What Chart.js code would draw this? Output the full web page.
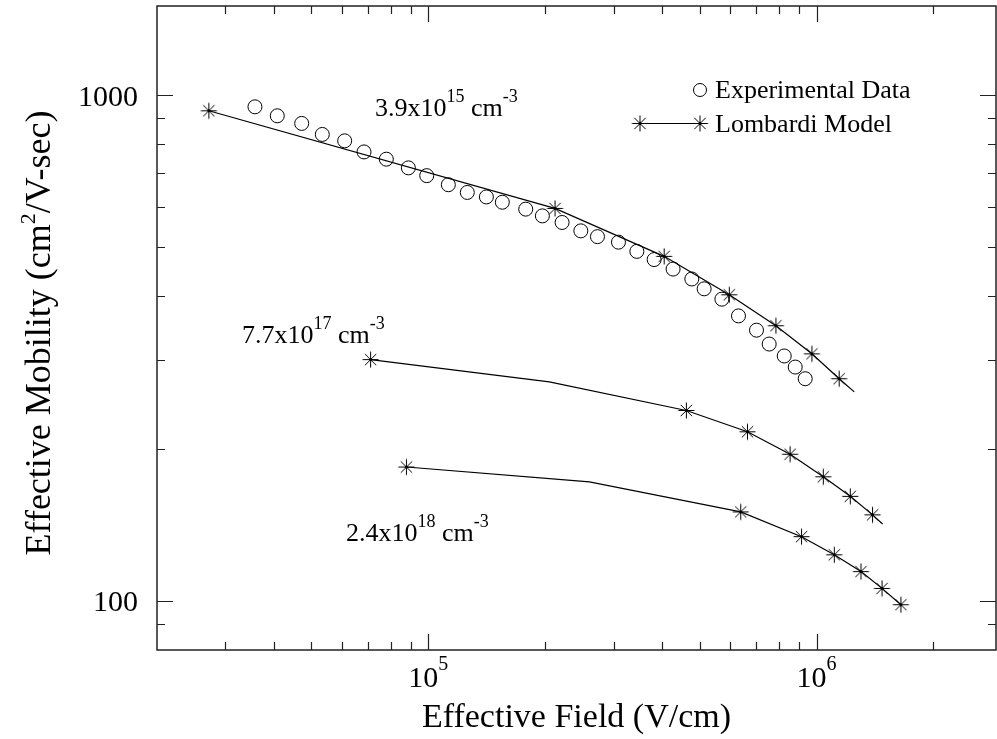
<!DOCTYPE html>
<html>
<head>
<meta charset="utf-8">
<script src="https://cdn.jsdelivr.net/npm/chart.js@4.4.0/dist/chart.umd.min.js"></script>
<style>
html, body { margin: 0; padding: 0; background: #fff; }
#wrap { width: 997px; height: 739px; }
</style>
</head>
<body>
<div id="wrap"><canvas id="myChart" width="997" height="739"></canvas></div>
<script>
// experimental data, 3.9x10^15 cm^-3
var expField = [35760, 40820, 47180, 53320, 60880, 68280, 77940, 88830, 99060, 112600,
    126000, 141100, 155100, 178200, 196700, 221100, 247100, 272700, 308900, 344500,
    381700, 427100, 477300, 513500, 570500, 629500, 700500, 755200, 825700, 881300, 935200];
var expMobility = [948, 910, 879, 836, 812, 772, 747, 718, 693, 665,
    642, 629, 614, 595, 577, 560, 539, 525, 512, 491,
    473, 453, 433, 414, 395, 366, 343, 322, 305, 290, 275];

// Lombardi model curves (line vertices) and the starred points on them
var lowField = [27200, 212000, 405000, 596000, 786000, 973000, 1144000, 1251000];
var lowMobility = [931, 597, 480, 403, 350, 308, 275, 259];
var lowStarField = [27200, 212000, 405000, 596000, 786000, 973000, 1144000];
var lowStarMobility = [931, 597, 480, 403, 350, 308, 275];

var midField = [71000, 205000, 462000, 664000, 855000, 1041000, 1222000, 1394000, 1480000];
var midMobility = [300, 271, 238, 216, 195, 176, 161, 148, 142];
var midStarField = [71000, 462000, 664000, 855000, 1041000, 1222000, 1394000];
var midStarMobility = [300, 238, 216, 195, 176, 161, 148];

var highField = [87800, 260000, 638000, 915000, 1111000, 1302000, 1475000, 1650000];
var highMobility = [184, 172, 150, 134, 123.4, 114.3, 105.9, 98.3];
var highStarField = [87800, 638000, 915000, 1111000, 1302000, 1475000, 1650000];
var highStarMobility = [184, 150, 134, 123.4, 114.3, 105.9, 98.3];

// axis ticks
var xMajorTicks = [1e5, 1e6];
var xMinorTicks = [3e4, 4e4, 5e4, 6e4, 7e4, 8e4, 9e4, 2e5, 3e5, 4e5, 5e5, 6e5, 7e5, 8e5, 9e5, 2e6];
var yMajorTicks = [100, 1000];
var yMinorTicks = [90, 200, 300, 400, 500, 600, 700, 800, 900];

var FONT = '"Liberation Serif", "DejaVu Serif", "Times New Roman", serif';

var pts = function (xs, ys) {
    return xs.map(function (v, i) { return { x: v, y: ys[i] }; });
};

// asterisk marker with a dot in the middle
var starImg = document.createElement('canvas');
starImg.width = 19;
starImg.height = 19;
(function () {
    var c = starImg.getContext('2d');
    var r = 8, cx = 9.5, cy = 9.5, d = r * Math.SQRT1_2;
    c.strokeStyle = '#000';
    c.lineWidth = 1;
    c.beginPath();
    c.moveTo(cx - r, cy); c.lineTo(cx + r, cy);
    c.moveTo(cx, cy - r); c.lineTo(cx, cy + r);
    c.moveTo(cx - d, cy - d); c.lineTo(cx + d, cy + d);
    c.moveTo(cx - d, cy + d); c.lineTo(cx + d, cy - d);
    c.stroke();
    c.fillStyle = '#000';
    c.beginPath();
    c.arc(cx, cy, 1.6, 0, Math.PI * 2);
    c.fill();
})();

var drawSup = function (ctx, parts, x, y, size, supSize, rise) {
    var cx = x;
    parts.forEach(function (p) {
        ctx.font = (p[1] ? supSize : size) + 'px ' + FONT;
        ctx.fillText(p[0], cx, p[1] ? y - rise : y);
        cx += ctx.measureText(p[0]).width;
    });
    return cx - x;
};
var supWidth = function (ctx, parts, size, supSize) {
    var w = 0;
    parts.forEach(function (p) {
        ctx.font = (p[1] ? supSize : size) + 'px ' + FONT;
        w += ctx.measureText(p[0]).width;
    });
    return w;
};

var decorPlugin = {
    id: 'decor',
    afterDraw: function (chart) {
        var ctx = chart.ctx;
        var a = chart.chartArea;
        var xs = chart.scales.x, ys = chart.scales.y;
        ctx.save();
        ctx.strokeStyle = '#222';
        ctx.fillStyle = '#000';
        ctx.lineWidth = 1.5;
        ctx.strokeRect(a.left, a.top, a.right - a.left, a.bottom - a.top);

        // ticks pointing inward on all four sides
        ctx.lineWidth = 1.2;
        ctx.beginPath();
        var xt = function (v, len) {
            var p = Math.round(xs.getPixelForValue(v)) + 0.5;
            ctx.moveTo(p, a.bottom); ctx.lineTo(p, a.bottom - len);
            ctx.moveTo(p, a.top); ctx.lineTo(p, a.top + len);
        };
        var yt = function (v, len) {
            var p = Math.round(ys.getPixelForValue(v)) + 0.5;
            ctx.moveTo(a.left, p); ctx.lineTo(a.left + len, p);
            ctx.moveTo(a.right, p); ctx.lineTo(a.right - len, p);
        };
        xMajorTicks.forEach(function (v) { xt(v, 16); });
        xMinorTicks.forEach(function (v) { xt(v, 8); });
        yMajorTicks.forEach(function (v) { yt(v, 16); });
        yMinorTicks.forEach(function (v) { yt(v, 8); });
        ctx.stroke();

        ctx.textBaseline = 'alphabetic';
        // x tick labels 10^n
        xMajorTicks.forEach(function (v) {
            var parts = [['10', false], [String(Math.round(Math.log10(v))), true]];
            var w = supWidth(ctx, parts, 30, 20);
            drawSup(ctx, parts, xs.getPixelForValue(v) - w / 2, 687, 30, 20, 17);
        });
        // y tick labels
        ctx.font = '30px ' + FONT;
        ctx.textAlign = 'right';
        yMajorTicks.forEach(function (v) {
            ctx.fillText(String(v), 138, ys.getPixelForValue(v) + 10.5);
        });
        ctx.textAlign = 'left';

        // axis titles
        var xt1 = [['Effective Field (V/cm)', false]];
        var w1 = supWidth(ctx, xt1, 34, 22);
        drawSup(ctx, xt1, (a.left + a.right) / 2 - w1 / 2, 727, 34, 22, 14);

        var yt1 = [['Effective Mobility (cm', false], ['2', true], ['/V-sec)', false]];
        var w2 = supWidth(ctx, yt1, 36, 22);
        ctx.save();
        ctx.translate(50, 333 + w2 / 2);
        ctx.rotate(-Math.PI / 2);
        drawSup(ctx, yt1, 0, 0, 36, 22, 15);
        ctx.restore();

        // concentration labels
        var conc = function (mant, exp, x, y) {
            drawSup(ctx, [[mant + 'x10', false], [exp, true], [' cm', false], ['-3', true]], x, y, 26, 18, 14);
        };
        conc('3.9', '15', 375, 116);
        conc('7.7', '17', 242, 343);
        conc('2.4', '18', 346, 541);

        // legend
        ctx.font = '26px ' + FONT;
        ctx.fillText('Experimental Data', 715, 98);
        ctx.fillText('Lombardi Model', 715, 132);
        ctx.strokeStyle = '#000';
        ctx.lineWidth = 1;
        ctx.beginPath();
        ctx.arc(700, 90, 6.5, 0, Math.PI * 2);
        ctx.stroke();
        ctx.beginPath();
        ctx.moveTo(640, 123.5);
        ctx.lineTo(700, 123.5);
        ctx.stroke();
        ctx.drawImage(starImg, 640 - 9.5, 123.5 - 9.5);
        ctx.drawImage(starImg, 700 - 9.5, 123.5 - 9.5);
        ctx.restore();
    }
};

var lineSet = function (xs, ys) {
    return { data: pts(xs, ys), showLine: true, borderColor: '#000', borderWidth: 1.2,
        pointRadius: 0, tension: 0, fill: false };
};
var starSet = function (xs, ys) {
    return { data: pts(xs, ys), showLine: false, pointStyle: starImg, pointRadius: 8 };
};

var ctx = document.getElementById('myChart').getContext('2d');
var myChart = new Chart(ctx, {
    type: 'scatter',
    data: {
        datasets: [
            lineSet(lowField, lowMobility),
            lineSet(midField, midMobility),
            lineSet(highField, highMobility),
            starSet(lowStarField, lowStarMobility),
            starSet(midStarField, midStarMobility),
            starSet(highStarField, highStarMobility),
            {
                data: pts(expField, expMobility),
                showLine: false,
                pointStyle: 'circle',
                pointRadius: 7,
                borderColor: '#000',
                borderWidth: 1,
                backgroundColor: 'rgba(0,0,0,0)'
            }
        ]
    },
    options: {
        responsive: false,
        devicePixelRatio: 1,
        animation: false,
        layout: { autoPadding: false, padding: { top: 6, right: 1, left: 0, bottom: 0 } },
        plugins: { legend: { display: false }, tooltip: { enabled: false } },
        scales: {
            x: {
                type: 'logarithmic', min: 2e4, max: 2.9e6,
                grid: { display: false }, border: { display: false },
                ticks: { display: false },
                afterFit: function (s) { s.height = 89; }
            },
            y: {
                type: 'logarithmic', min: 80, max: 1500,
                grid: { display: false }, border: { display: false },
                ticks: { display: false },
                afterFit: function (s) { s.width = 157; }
            }
        }
    },
    plugins: [decorPlugin]
});
</script>
</body>
</html>
